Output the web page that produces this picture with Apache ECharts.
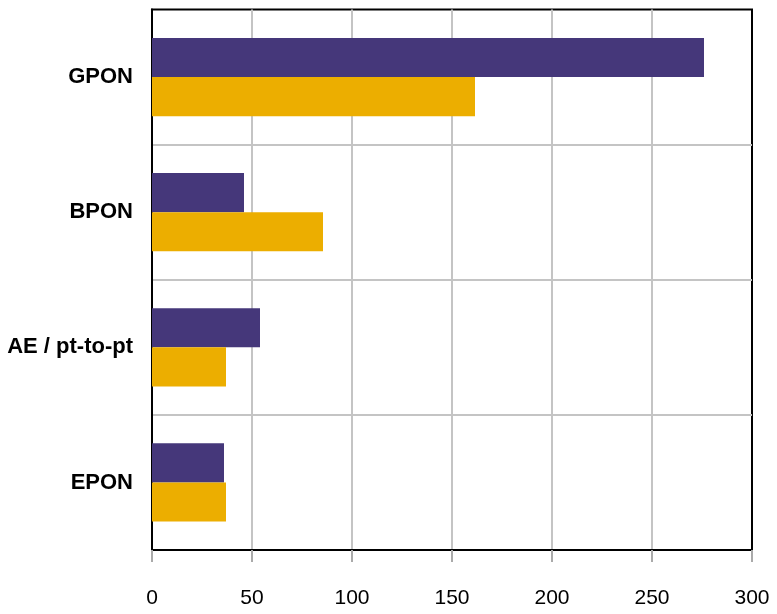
<!DOCTYPE html>
<html>
<head>
<meta charset="utf-8">
<script src="https://cdn.jsdelivr.net/npm/echarts@6/dist/echarts.min.js"></script>
<style>
html,body{margin:0;padding:0;background:#fff;}
#chart{width:777px;height:614px;}
</style>
</head>
<body>
<div id="chart"></div>
<script>
const categories = ['GPON', 'BPON', 'AE / pt-to-pt', 'EPON'];
const seriesPurple = [276, 46, 54, 36];
const seriesGold = [161.5, 85.5, 37, 37];
const xTicks = { min: 0, max: 300, interval: 50 };

const chart = echarts.init(document.getElementById('chart'));
const font = '"Liberation Sans Narrow", "Arial Narrow", "Liberation Sans", Arial, sans-serif';
chart.setOption({
  animation: false,
  backgroundColor: '#ffffff',
  grid: {
    left: 152, right: 25, top: 9.5, bottom: 64,
    outerBoundsMode: 'none', containLabel: false,
    show: true, borderColor: '#000', borderWidth: 2, backgroundColor: 'transparent'
  },
  xAxis: {
    type: 'value',
    min: xTicks.min, max: xTicks.max, interval: xTicks.interval,
    axisLine: { show: true, lineStyle: { color: '#000', width: 2 } },
    axisTick: { show: true, length: 12, lineStyle: { color: '#aaa', width: 2 } },
    splitLine: { show: true, showMinLine: false, showMaxLine: false, lineStyle: { color: '#c4c4c4', width: 2 } },
    axisLabel: { color: '#000', fontFamily: font, fontSize: 21, margin: 38 }
  },
  yAxis: {
    type: 'category',
    data: categories,
    inverse: true,
    axisLine: { show: true, lineStyle: { color: '#000', width: 2 } },
    axisTick: { show: false },
    splitLine: { show: true, showMinLine: false, showMaxLine: false, lineStyle: { color: '#c4c4c4', width: 2 } },
    axisLabel: { color: '#000', fontFamily: font, fontSize: 22, fontWeight: 'bold', margin: 19 }
  },
  series: [
    {
      type: 'bar', data: seriesPurple, barGap: '0%', barCategoryGap: '42%',
      itemStyle: { color: '#45377a' }
    },
    {
      type: 'bar', data: seriesGold, barGap: '0%', barCategoryGap: '42%',
      itemStyle: { color: '#ecae00' }
    }
  ]
});
</script>
</body>
</html>
